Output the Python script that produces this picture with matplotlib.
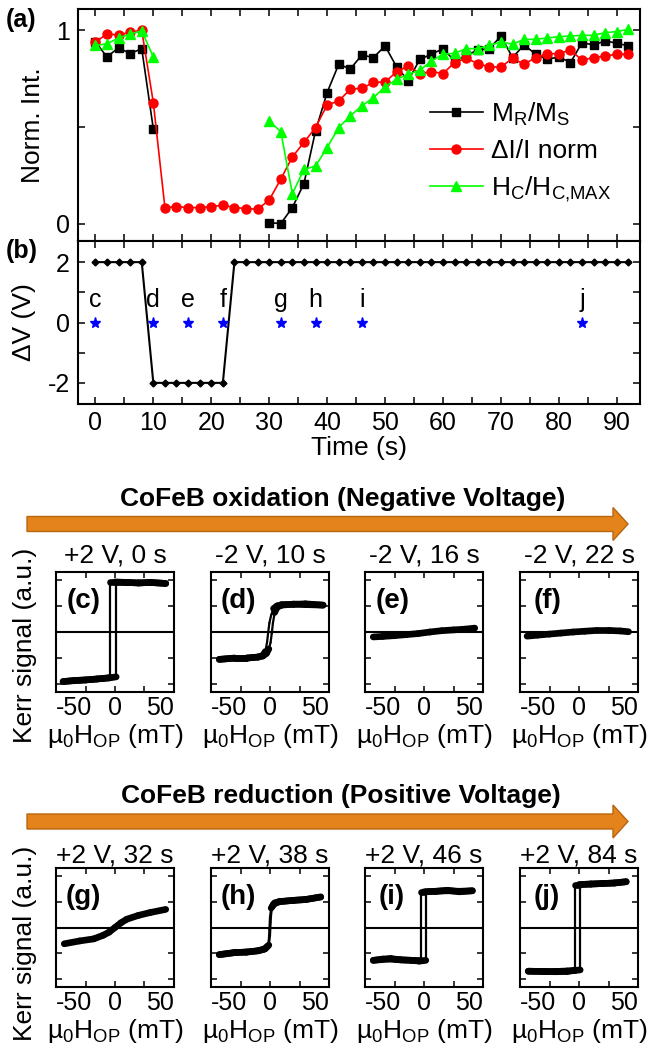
import numpy as np
import matplotlib
matplotlib.use('Agg')
import matplotlib.pyplot as plt
from matplotlib.collections import LineCollection
from matplotlib.patches import Polygon

plt.rcParams['font.family'] = ['Liberation Sans', 'DejaVu Sans']
plt.rcParams['mathtext.fontset'] = 'custom'
plt.rcParams['mathtext.rm'] = 'Liberation Sans'
plt.rcParams['axes.unicode_minus'] = False

# ---- panel (a): normalised quantities vs time ----
time = [0, 2, 4, 6, 8, 10, 12, 14, 16, 18, 20, 22, 24, 26, 28, 30, 32, 34, 36, 38,
        40, 42, 44, 46, 48, 50, 52, 54, 56, 58, 60, 62, 64, 66, 68, 70, 72, 74, 76,
        78, 80, 82, 84, 86, 88, 90, 92]
nan = np.nan
mr_ms = [0.94, 0.862, 0.91, 0.879, 0.905, 0.49,
         nan, nan, nan, nan, nan, nan, nan, nan, nan,
         0.005, 0.0, 0.083, 0.207, 0.48, 0.678, 0.824, 0.80, 0.872, 0.859, 0.919,
         0.81, 0.74, 0.85, 0.876, 0.905, 0.841, 0.87, 0.897, 0.905, 0.97, 0.859,
         0.924, 0.876, 0.85, 0.862, 0.833, 0.936, 0.924, 0.945, 0.933, 0.919]
dI_I = [0.94, 0.98, 0.976, 0.99, 1.0, 0.626, 0.083, 0.088, 0.083, 0.083, 0.088,
        0.095, 0.083, 0.078, 0.074, 0.122, 0.23, 0.345, 0.42, 0.497, 0.614, 0.634,
        0.695, 0.70, 0.73, 0.733, 0.785, 0.815, 0.776, 0.786, 0.776, 0.833, 0.855,
        0.828, 0.81, 0.81, 0.855, 0.824, 0.859, 0.879, 0.879, 0.898, 0.845, 0.859,
        0.867, 0.876, 0.876]
hc_hcmax = [0.922, 0.93, 0.96, 0.98, 0.997, 0.862,
            nan, nan, nan, nan, nan, nan, nan, nan, nan,
            0.53, 0.476, 0.155, 0.28, 0.298, 0.393, 0.497, 0.557, 0.609, 0.652,
            0.707, 0.747, 0.772, 0.793, 0.841, 0.876, 0.881, 0.905, 0.905, 0.922,
            0.94, 0.928, 0.953, 0.953, 0.96, 0.967, 0.97, 0.974, 0.974, 0.988,
            0.993, 1.005]

# ---- panel (b): applied voltage ----
voltage = [2] * 5 + [-2] * 7 + [2] * 35
star_t = [0, 10, 16, 22, 32, 38, 46, 84]
star_lbl = ['c', 'd', 'e', 'f', 'g', 'h', 'i', 'j']

# ---- Kerr loops (field in mT, signal in a.u.) ----
c_H = [-44, -35, -25, -15, -5, 1, 1, 10, 20, 30, 43,
       43, 30, 20, 10, 0, -4, -4, -10, -20, -30, -44]
c_M = [-1.9, -1.86, -1.84, -1.8, -1.76, -1.72, 1.9, 1.9, 1.88, 1.9, 1.86,
       1.86, 1.9, 1.88, 1.9, 1.92, 1.92, -1.75, -1.78, -1.82, -1.85, -1.9]
d_H = [-43, -30, -20, -10, -6, -3, -1, 0.5, 1.5, 2.5, 4, 6, 10, 20, 30, 45,
       45, 30, 20, 10, 6, 3, 1, -0.5, -1.5, -2.5, -4, -6, -10, -20, -30, -43]
d_M = [-1.05, -1.0, -1.0, -0.96, -0.92, -0.82, -0.65, -0.4, -0.05, 0.35, 0.75,
       0.95, 1.03, 1.07, 1.05, 1.03,
       1.03, 1.08, 1.06, 1.05, 1.0, 0.9, 0.65, 0.35, 0.0, -0.4, -0.75, -0.9,
       -0.96, -1.0, -1.0, -1.05]
e_H = [-43, -35, -25, -15, -5, 5, 15, 25, 35, 43]
e_M = [-0.19, -0.17, -0.14, -0.1, -0.06, 0.0, 0.05, 0.08, 0.11, 0.15]
f_H = [-44, -35, -25, -15, -5, 5, 15, 25, 35, 42]
f_M = [-0.16, -0.12, -0.08, -0.04, 0.0, 0.03, 0.06, 0.06, 0.04, 0.01]
g_H = [-43, -30, -18, -10, -5, 0, 5, 10, 20, 30, 43]
g_M = [-0.63, -0.52, -0.44, -0.3, -0.18, 0.0, 0.18, 0.32, 0.47, 0.58, 0.70]
h_H = [-43, -30, -20, -10, -4, -1, 0, 0.5, 1, 2, 4, 8, 20, 30, 43,
       43, 30, 20, 8, 3, 1, 0, -0.5, -1, -2, -5, -10, -20, -30, -43]
h_M = [-1.05, -0.97, -0.95, -0.9, -0.82, -0.68, -0.3, 0.2, 0.55, 0.82, 0.95,
       1.0, 1.05, 1.08, 1.18,
       1.18, 1.08, 1.05, 1.0, 0.9, 0.75, 0.4, -0.1, -0.5, -0.72, -0.84, -0.9,
       -0.95, -0.97, -1.05]
i_H = [-43, -35, -28, -20, -10, -4, 1.5, 1.5, 10, 20, 30, 41,
       41, 30, 20, 10, 0, -2.5, -2.5, -10, -20, -30, -43]
i_M = [-1.27, -1.22, -1.2, -1.25, -1.27, -1.3, -1.27, 1.38, 1.4, 1.44, 1.38, 1.42,
       1.42, 1.4, 1.42, 1.4, 1.38, 1.38, -1.28, -1.27, -1.25, -1.22, -1.27]
j_H = [-43, -30, -20, -10, -4, 1, 1, 10, 20, 30, 40,
       40, 30, 20, 10, 0, -3, -3, -10, -20, -30, -43]
j_M = [-1.69, -1.7, -1.71, -1.7, -1.66, -1.64, 1.66, 1.68, 1.7, 1.72, 1.77,
       1.77, 1.72, 1.7, 1.68, 1.66, 1.66, -1.66, -1.68, -1.7, -1.7, -1.69]

row1 = [('c', '+2 V, 0 s', c_H, c_M), ('d', '-2 V, 10 s', d_H, d_M),
        ('e', '-2 V, 16 s', e_H, e_M), ('f', '-2 V, 22 s', f_H, f_M)]
row2 = [('g', '+2 V, 32 s', g_H, g_M), ('h', '+2 V, 38 s', h_H, h_M),
        ('i', '+2 V, 46 s', i_H, i_M), ('j', '+2 V, 84 s', j_H, j_M)]

W, H = 648, 1051
fig = plt.figure(figsize=(W / 100, H / 100), dpi=100)


def px_axes(left, top, right, bottom):
    return fig.add_axes([left / W, 1 - bottom / H, (right - left) / W, (bottom - top) / H])


def style(ax, length=5):
    ax.tick_params(which='both', direction='in', top=True, right=True,
                   length=length, width=1.1, labelsize=18)
    for s in ax.spines.values():
        s.set_linewidth(1.5)


# (a)
ax_a = px_axes(78, 9, 640, 241)
ax_a.plot(time, mr_ms, '-s', color='k', ms=5.5, lw=1.2, label=r'M$_{\mathregular{R}}$/M$_{\mathregular{S}}$')
ax_a.plot(time, dI_I, '-o', color='#FF0000', ms=6.5, lw=1.2, label='ΔI/I norm')
ax_a.plot(time, hc_hcmax, '-^', color='#00FF00', ms=7, lw=1.2,
          label=r'H$_{\mathregular{C}}$/H$_{\mathregular{C{,}MAX}}$')
ax_a.set_xlim(-3, 94)
ax_a.set_ylim(-0.09, 1.11)
ax_a.set_xticks(range(0, 91, 10))
ax_a.set_xticks(range(5, 95, 10), minor=True)
ax_a.set_yticks([0, 0.5, 1], ['0', '', '1'])
ax_a.tick_params(labelbottom=False)
style(ax_a)
ax_a.tick_params(axis='y', pad=6)
ax_a.set_ylabel('Norm. Int.', fontsize=19, labelpad=8)
ax_a.legend(loc='upper left', bbox_to_anchor=(0.626, 0.605), frameon=False, fontsize=19,
            borderpad=0, borderaxespad=0, handlelength=2.0, handletextpad=0.3,
            labelspacing=0.42)
fig.text(6 / W, 1 - 27 / H, '(a)', fontsize=18, fontweight='bold', va='baseline')

# (b)
ax_b = px_axes(78, 241, 640, 404)
ax_b.plot(time, voltage, '-D', color='k', ms=3.5, lw=1.5)
ax_b.plot(star_t, [0] * len(star_t), '*', color='#0000FF', ms=8, ls='none')
for t, lbl in zip(star_t, star_lbl):
    ax_b.text(t, 0.53, lbl, fontsize=18, ha='center', va='baseline')
ax_b.set_xlim(-3, 94)
ax_b.set_ylim(-2.7, 2.7)
ax_b.set_xticks(range(0, 91, 10))
ax_b.set_xticks(range(5, 95, 10), minor=True)
ax_b.set_yticks([-2, 0, 2])
ax_b.set_yticks([-1, 1], minor=True)
style(ax_b)
ax_b.tick_params(axis='y', pad=6)
ax_b.tick_params(axis='x', pad=5)
ax_b.set_xlabel('Time (s)', fontsize=19, labelpad=1)
ax_b.set_ylabel('ΔV (V)', fontsize=19, labelpad=8)
fig.text(6 / W, 1 - 258 / H, '(b)', fontsize=18, fontweight='bold', va='baseline')

# Kerr loop rows
lefts = [56, 211, 365, 520]


def loop_panel(left, top, bottom, letter, title, hx, my, tpad):
    ax = px_axes(left, top, left + 118, bottom)
    ax.axhline(0, color='k', lw=1.5)
    pts = np.column_stack([hx, my])
    segs = np.stack([pts[:-1], pts[1:]], axis=1)
    dh = np.abs(np.diff(hx))
    dm = np.abs(np.diff(my))
    steep = dm > 0.12 * np.maximum(dh, 1e-9)
    lc = LineCollection(segs, colors='k', linewidths=np.where(steep, 1.6, 4.8),
                        capstyle='round', joinstyle='round')
    ax.add_collection(lc)
    ax.set_xlim(-50, 50)
    ax.set_ylim(-2.3, 2.3)
    ax.set_xticks([-50, 0, 50], ['-50', '0', '50'])
    ax.set_xticks([-25, 25], minor=True)
    ax.set_yticks([-2, -1, 0, 1, 2], [])
    style(ax, length=4)
    ax.tick_params(axis='x', pad=3)
    lab = ax.get_xticklabels()
    lab[0].set_horizontalalignment('left')
    lab[-1].set_horizontalalignment('right')
    ax.set_xlabel(r'µ$_{\mathregular{0}}$H$_{\mathregular{OP}}$ (mT)', fontsize=19, labelpad=1)
    ax.set_title(title, fontsize=19, pad=tpad)
    ax.text(0.23, 0.76, '(%s)' % letter, transform=ax.transAxes, fontsize=20,
            fontweight='bold', ha='center', va='center')
    return ax


for left, (letter, title, hx, my) in zip(lefts, row1):
    loop_panel(left, 572, 692, letter, title, hx, my, 7)
for left, (letter, title, hx, my) in zip(lefts, row2):
    loop_panel(left, 868, 987, letter, title, hx, my, 3.5)

fig.text(25 / W, 1 - 645 / H, 'Kerr signal (a.u.)', fontsize=19, rotation=90,
         ha='center', va='center')
fig.text(25 / W, 1 - 943 / H, 'Kerr signal (a.u.)', fontsize=19, rotation=90,
         ha='center', va='center')

# orange arrows and their headings
ov = fig.add_axes([0, 0, 1, 1], zorder=-1)
ov.set_xlim(0, W)
ov.set_ylim(H, 0)
ov.axis('off')
for yc in (524, 821.5):
    shape = [(27, yc - 7.5), (613, yc - 7.5), (613, yc - 16.5), (628, yc),
             (613, yc + 16.5), (613, yc + 7.5), (27, yc + 7.5)]
    ov.add_patch(Polygon(shape, closed=True, facecolor='#E4831B', edgecolor='#B8650F', lw=1))
fig.text(343 / W, 1 - 506 / H, 'CoFeB oxidation (Negative Voltage)', fontsize=19,
         fontweight='bold', ha='center', va='baseline')
fig.text(341 / W, 1 - 803 / H, 'CoFeB reduction (Positive Voltage)', fontsize=19,
         fontweight='bold', ha='center', va='baseline')

fig.savefig('out.png', dpi=100)
